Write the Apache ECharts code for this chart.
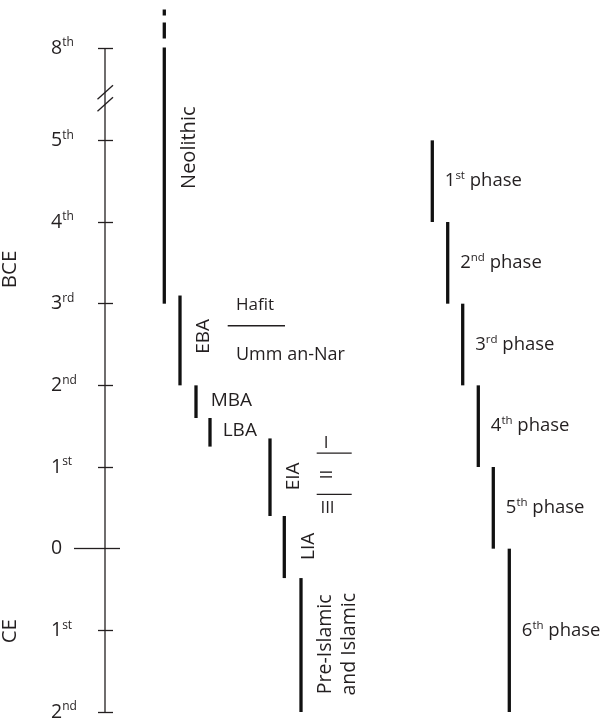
<!DOCTYPE html>
<html><head><meta charset="utf-8">
<script src="https://cdn.jsdelivr.net/npm/echarts@6.0.0/dist/echarts.min.js"></script>
<style>html,body{margin:0;padding:0;background:#fff}#c{width:608px;height:724px}</style>
</head><body><div id="c"></div>
<script>
// ---------------- data ----------------
const TICK_VALUES = [-8000, -5000, -4000, -3000, -2000, -1000, 0, 1000, 2000];
const TICK_NUM = ['8', '5', '4', '3', '2', '1', '0', '1', '2'];
const TICK_SUP = ['th', 'th', 'th', 'rd', 'nd', 'st', '', 'st', 'nd'];
const ERA_NAMES = ['BCE', 'CE'];

const PERIOD_NAMES = ['Neolithic', 'EBA', 'MBA', 'LBA', 'EIA', 'LIA', 'Pre-Islamic\nand Islamic'];
const PERIOD_START = [-8000, -3100, -2000, -1600, -1350, -400, 360];
const PERIOD_END = [-3000, -2000, -1600, -1250, -400, 360, 2000];
const NEOLITHIC_OPEN_START = [-8470];

const EBA_SUB_NAMES = ['Hafit', 'Umm an-Nar'];
const EBA_SUB_BOUNDARY = [-2730];
const EIA_SUB_NAMES = ['I', 'II', 'III'];
const EIA_SUB_BOUNDARY = [-1170, -665];

const PHASE_NUM = ['1', '2', '3', '4', '5', '6'];
const PHASE_SUP = ['st', 'nd', 'rd', 'th', 'th', 'th'];
const PHASE_START = [-5000, -4000, -3000, -2000, -1000, 0];
const PHASE_END = [-4000, -3000, -2000, -1000, 0, 2000];

// ---------------- layout (horizontal lanes, label anchors) ----------------
const FONT = 'Open Sans';
const INK = '#231f20';
const BAR = '#111111';
const LAYOUT = {
  periodX: [59.3, 75, 91, 105, 165, 179.3, 196],
  phaseX: [327.3, 342.7, 357.7, 373.3, 388.3, 404.3],
  phaseLabelDx: 12.5,
  periodLabel: [
    [84, -4910, 90, 'center', 20],
    [99, -2600, 90, 'center', 19],
    [105.7, -1810, 0, 'left', 19],
    [117.7, -1440, 0, 'left', 19],
    [189, -885, 90, 'center', 19],
    [204, -28, 90, 'center', 19],
    [232.5, 1171, 90, 'center', 19.5]
  ],
  ebaSubX: [122.7, 180],
  ebaSubLabel: [[131, -2980, 17], [131, -2370, 18]],
  eiaSubX: [211.7, 246.7],
  eiaSubLabel: [[221, -1289, 0], [222, -909, 90], [222.5, -499, 0]],
  era: [[-95, -3420], [-95, 1010]]
};

// ---------------- build segments ----------------
// [x1, y1, x2, y2, lineWidth, dashed]
const segments = [];
// continuous axis line (runs straight through the break)
segments.push([0, TICK_VALUES[0], 0, TICK_VALUES[TICK_VALUES.length - 1], 1.3, 0]);
PERIOD_NAMES.forEach((n, i) => {
  segments.push([LAYOUT.periodX[i], PERIOD_START[i], LAYOUT.periodX[i], PERIOD_END[i], 3.3, 0]);
});
segments.push([LAYOUT.periodX[0], NEOLITHIC_OPEN_START[0], LAYOUT.periodX[0], PERIOD_START[0], 3.3, 1]);
PHASE_NUM.forEach((n, i) => {
  segments.push([LAYOUT.phaseX[i], PHASE_START[i], LAYOUT.phaseX[i], PHASE_END[i], 3.3, 0]);
});
EBA_SUB_BOUNDARY.forEach(v => {
  segments.push([LAYOUT.ebaSubX[0], v, LAYOUT.ebaSubX[1], v, 1.3, 0]);
});
EIA_SUB_BOUNDARY.forEach(v => {
  segments.push([LAYOUT.eiaSubX[0], v, LAYOUT.eiaSubX[1], v, 1.3, 0]);
});

// ---------------- build texts ----------------
const TEXTS = [];
PERIOD_NAMES.forEach((n, i) => {
  const p = LAYOUT.periodLabel[i];
  TEXTS.push({ x: p[0], y: p[1], text: n, rot: p[2], align: p[3], size: p[4] });
});
EBA_SUB_NAMES.forEach((n, i) => {
  const p = LAYOUT.ebaSubLabel[i];
  TEXTS.push({ x: p[0], y: p[1], text: n, rot: 0, align: 'left', size: p[2] });
});
EIA_SUB_NAMES.forEach((n, i) => {
  const p = LAYOUT.eiaSubLabel[i];
  TEXTS.push({ x: p[0], y: p[1], text: n, rot: p[2], align: 'center', size: 17 });
});
PHASE_NUM.forEach((n, i) => {
  TEXTS.push({
    x: LAYOUT.phaseX[i] + LAYOUT.phaseLabelDx,
    y: (PHASE_START[i] + PHASE_END[i]) / 2,
    text: '{n|' + n + '}{s|' + PHASE_SUP[i] + '}{t| phase}',
    rot: 0, align: 'left', size: 18.5, rich: true
  });
});
ERA_NAMES.forEach((n, i) => {
  const p = LAYOUT.era[i];
  TEXTS.push({ x: p[0], y: p[1], text: n, rot: 90, align: 'center', size: 20.5 });
});

const RICH = {
  n: { fontSize: 18.5, fontFamily: FONT, fill: INK, color: INK, lineHeight: 22 },
  s: { fontSize: 11.5, fontFamily: FONT, fill: INK, color: INK, lineHeight: 12, verticalAlign: 'top' },
  t: { fontSize: 18.5, fontFamily: FONT, fill: INK, color: INK, lineHeight: 22 }
};

// ---------------- axes ----------------
const BREAKS = [{ start: -7800, end: -5200, gap: 731 }];
function yAxisBase(extra) {
  return Object.assign({
    type: 'value', inverse: true, min: -8000, max: 2000, position: 'left', offset: 0,
    breaks: BREAKS.map(b => Object.assign({}, b)),
    breakArea: { show: false },
    splitLine: { show: false },
    axisLine: { show: false },
    axisLabel: { show: false },
    axisTick: { show: false }
  }, extra);
}
const NON_ZERO_TICKS = TICK_VALUES.filter(v => v !== 0);

const option = {
  animation: false,
  backgroundColor: '#ffffff',
  grid: { left: 105, right: 0, top: 48, bottom: 12, containLabel: false },
  xAxis: { type: 'value', min: 0, max: 503, show: false },
  yAxis: [
    yAxisBase({
      axisTick: { show: true, inside: false, length: 7, customValues: NON_ZERO_TICKS, lineStyle: { color: INK, width: 1.3 } },
      axisLabel: {
        show: true, customValues: TICK_VALUES, align: 'left', margin: 54,
        formatter: function (v) {
          const i = TICK_VALUES.indexOf(v);
          if (i < 0) return '';
          return '{n|' + TICK_NUM[i] + '}' + (TICK_SUP[i] ? '{s|' + TICK_SUP[i] + '}' : '');
        },
        rich: {
          n: { fontSize: 19.5, fontFamily: FONT, color: INK, lineHeight: 22 },
          s: { fontSize: 12, fontFamily: FONT, color: INK, lineHeight: 12, verticalAlign: 'top' }
        }
      }
    }),
    yAxisBase({ axisTick: { show: true, inside: true, length: 8, customValues: NON_ZERO_TICKS, lineStyle: { color: INK, width: 1.3 } } }),
    yAxisBase({ axisTick: { show: true, inside: false, length: 31, customValues: [0], lineStyle: { color: INK, width: 1.3 } } }),
    yAxisBase({ axisTick: { show: true, inside: true, length: 15, customValues: [0], lineStyle: { color: INK, width: 1.3 } } })
  ],
  series: [
    {
      type: 'custom', name: 'segments', clip: false, silent: true,
      data: segments,
      renderItem: function (params, api) {
        const a = api.coord([api.value(0), api.value(1)]);
        const b = api.coord([api.value(2), api.value(3)]);
        const w = api.value(4);
        const dashed = api.value(5) === 1;
        return {
          type: 'line',
          shape: { x1: a[0], y1: a[1], x2: b[0], y2: b[1] },
          style: { stroke: w > 2 ? BAR : INK, lineWidth: w, lineDash: dashed ? [6, 7, 16, 9] : null, lineCap: 'butt' }
        };
      }
    },
    {
      type: 'custom', name: 'texts', clip: false, silent: true,
      data: TEXTS.map((t, i) => [t.x, t.y, i]),
      renderItem: function (params, api) {
        const t = TEXTS[api.value(2)];
        const p = api.coord([t.x, t.y]);
        return {
          type: 'text',
          x: p[0], y: p[1],
          rotation: t.rot * Math.PI / 180,
          style: {
            text: t.text,
            fill: INK,
            fontSize: t.size,
            fontFamily: FONT,
            align: t.align,
            verticalAlign: 'middle',
            lineHeight: t.size * 1.2,
            rich: t.rich ? RICH : undefined
          }
        };
      }
    }
  ]
};

const chart = echarts.init(document.getElementById('c'));
chart.setOption(option);

// axis-break symbol (//) drawn on the axis line between the 8th and 5th ticks
const yTop = chart.convertToPixel({ yAxisIndex: 0 }, TICK_VALUES[0]);
const yBot = chart.convertToPixel({ yAxisIndex: 0 }, TICK_VALUES[1]);
const ax = chart.convertToPixel({ xAxisIndex: 0 }, 0);
const mid = (yTop + yBot) / 2 + 4;
chart.setOption({
  graphic: [-6, 6].map(d => ({
    type: 'line', silent: true,
    shape: { x1: ax - 7.5, y1: mid + d + 7, x2: ax + 8, y2: mid + d - 7 },
    style: { stroke: INK, lineWidth: 1.3 }
  }))
});
</script>
</body></html>
